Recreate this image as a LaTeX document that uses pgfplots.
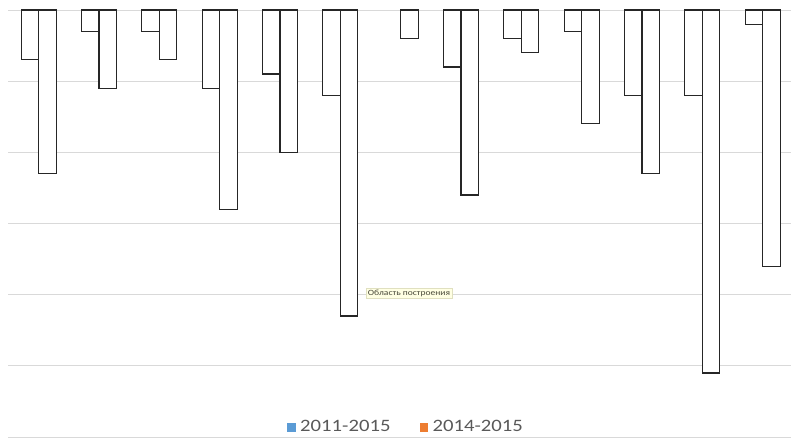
\documentclass[border=0pt]{standalone}
\usepackage{pgfplots}
\pgfplotsset{compat=1.18}
\usepackage{fontspec}
\setmainfont{Carlito}
\newfontfamily\legfont[FakeStretch=1.19]{Carlito}
\definecolor{gridgray}{HTML}{D9D9D9}
\definecolor{txtgray}{HTML}{595959}
\definecolor{cblue}{HTML}{5B9BD5}
\definecolor{corange}{HTML}{ED7D31}
\definecolor{barline}{HTML}{262626}
\definecolor{tipfill}{HTML}{FFFFE3}
\definecolor{tipdraw}{HTML}{E0E0C0}
\definecolor{tiptext}{HTML}{4A4A3A}
\begin{document}
\begin{tikzpicture}[x=1pt,y=1pt]
\path[use as bounding box] (0,0) rectangle (791,439);
\begin{axis}[
  at={(8.5pt,2pt)}, anchor=south west,
  scale only axis, width=782.5pt, height=427pt,
  xmin=-0.5, xmax=12.47, ymin=-60, ymax=0,
  ybar=0pt, bar width=17.5pt,
  xtick=\empty, ytick={-60,-50,...,0}, yticklabels={},
  ymajorgrids, grid style={gridgray, line width=1pt},
  axis line style={draw=none}, major tick length=0pt,
  clip=false,
  legend style={at={(0.508,0.0234)}, anchor=center, draw=none, fill=none,
    legend columns=2, font=\legfont\fontsize{17.4}{20}\selectfont\color{txtgray},
    /tikz/every even column/.append style={column sep=27pt}},
  legend cell align=left,
]
\addplot[fill=white, draw=barline, line width=1.2pt, bar shift=-8.75pt,
  legend image code/.code={\fill[cblue, draw=none] (0pt,-4.5pt) rectangle (8.5pt,4.5pt);\path[draw=none, fill=none] (0pt,0pt) -- (11pt,0pt);}]
  coordinates {(0,-7) (1,-3) (2,-3) (3,-11) (4,-9) (5,-12) (7,-8) (8,-4) (9,-3) (10,-12) (11,-12) (12,-2)};
\addlegendentry{2011-2015}
\addplot[fill=white, draw=barline, line width=1.2pt, bar shift=8.75pt,
  legend image code/.code={\fill[corange, draw=none] (0pt,-4.5pt) rectangle (8.5pt,4.5pt);\path[draw=none, fill=none] (0pt,0pt) -- (11pt,0pt);}]
  coordinates {(0,-23) (1,-11) (2,-7) (3,-28) (4,-20) (5,-43) (6,-4) (7,-26) (8,-6) (9,-16) (10,-23) (11,-51) (12,-36)};
\addlegendentry{2014-2015}
\end{axis}
\node[fill=tipfill, draw=tipdraw, line width=0.6pt, inner xsep=2pt, inner ysep=1.5pt,
  font=\legfont\fontsize{8}{9}\selectfont, text=tiptext] at (409,145.5) {Область построения};
\end{tikzpicture}
\end{document}
